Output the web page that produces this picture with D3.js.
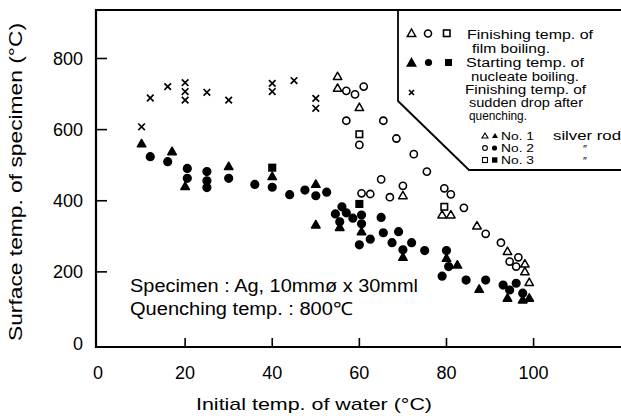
<!DOCTYPE html>
<html><head><meta charset="utf-8">
<script src="https://cdn.jsdelivr.net/npm/d3@7/dist/d3.min.js"></script>
<style>
html,body{margin:0;padding:0;background:#fff;}
text{font-family:"Liberation Sans",Arial,sans-serif;fill:#000;}
</style></head>
<body>
<svg id="chart" width="621" height="416"></svg>
<script>
// ---- data ----
const xTicks = [0, 20, 40, 60, 80, 100];
const yTicks = [0, 200, 400, 600, 800];
// Finishing temp. of film boiling (hollow)
const film1 = [[55,749],[55,716],[60,662],[70,414],[79,360],[81,360],[87,329],[94,257],[98,222],[98,200],[99,170]];
const film2 = [[57,709],[59,699],[61,721],[57,625],[65.5,625],[60,557],[68.5,575],[72.5,531],[75.5,482],[65,460],[60.5,421],[62.5,419],[67,410],[70,442],[79.5,435],[81,418],[84,380],[89,307],[92.5,282],[96.5,241],[94.5,229],[96,215]];
const film3 = [[60,587],[79.5,383]];
// Starting temp. of nucleate boiling (filled)
const nuc1 = [[10,560],[17,538],[20,440],[30,496],[40,468],[50,446],[50,332],[55.5,325],[60.5,313],[70,241],[80,238],[82.5,219],[87.5,151],[94,126],[97.5,121],[99,126]];
const nuc2 = [[12,524],[16,510],[20.5,491],[20.5,463],[25,482],[25,456],[25,437],[30,463],[36,446],[40,438],[44,417],[47.5,430],[50,414],[52.5,424],[56,383],[54.5,363],[57,366],[58.5,351],[60.5,360],[65,353],[55.5,341],[60.5,335],[60,276],[62.5,292],[65.5,310],[69,313],[67.5,282],[72,282],[70,262],[75,260],[80,260],[80.5,215],[79,188],[84.5,177],[89,177],[93,163],[96,168],[94.5,149],[97.5,140]];
const nuc3 = [[40,493],[60,391]];
// Finishing temp. of sudden drop after quenching
const sudden = [[10,608],[12,689],[16,721],[20,732],[20,707],[20,683],[25,705],[30,683],[40,730],[40,707],[45,738],[50,688],[50,660]];

const legendLines = ["Finishing temp. of","film boiling.","Starting temp. of","nucleate boiling.","Finishing temp. of","sudden drop after","quenching."];
const rodLabels = ["No. 1","No. 2","No. 3"];

// ---- drawing ----
const svg = d3.select("#chart");
const x = d3.scaleLinear().domain([0,100]).range([98,533.6]);
const y = d3.scaleLinear().domain([0,800]).range([343,58.5]);

// frame
const frame = svg.append("g").attr("fill","none").attr("stroke","#000");
frame.append("path").attr("d","M96,10 L621,10").attr("stroke-width",2);
frame.append("path").attr("d","M96,9 L96,347 L621,347").attr("stroke-width",2.2);
// legend box
frame.append("path").attr("d","M398,10 L398,101 L469,170 L621,170").attr("stroke-width",1.8);

// ticks
svg.append("g").selectAll("line").data(xTicks.filter(d=>d>0)).join("line")
  .attr("x1",d=>x(d)).attr("x2",d=>x(d)).attr("y1",347).attr("y2",338)
  .attr("stroke","#000").attr("stroke-width",1.6);
svg.append("g").selectAll("line").data(yTicks.filter(d=>d>0)).join("line")
  .attr("x1",96).attr("x2",107).attr("y1",d=>y(d)).attr("y2",d=>y(d))
  .attr("stroke","#000").attr("stroke-width",1.6);

// tick labels
svg.append("g").selectAll("text").data(xTicks).join("text")
  .attr("x",d=>x(d)).attr("y",379).attr("text-anchor","middle")
  .attr("font-size",18).text(d=>d);
svg.append("g").selectAll("text").data(yTicks).join("text")
  .attr("x",83).attr("y",d=>y(d)+6.5).attr("text-anchor","end")
  .attr("font-size",18).text(d=>d);

// axis titles
svg.append("text").attr("x",314).attr("y",410).attr("text-anchor","middle")
  .attr("font-size",17).attr("textLength",236).attr("lengthAdjust","spacingAndGlyphs")
  .text("Initial temp. of water  (°C)");
svg.append("text").attr("transform","translate(22,182) rotate(-90)").attr("text-anchor","middle")
  .attr("font-size",18).attr("textLength",318).attr("lengthAdjust","spacingAndGlyphs")
  .text("Surface temp. of specimen  (°C)");

// annotation
svg.append("text").attr("x",130).attr("y",292).attr("font-size",18)
  .attr("textLength",288).attr("lengthAdjust","spacingAndGlyphs")
  .text("Specimen : Ag, 10mmø x 30mml");
svg.append("text").attr("x",130).attr("y",315).attr("font-size",18)
  .attr("textLength",223).attr("lengthAdjust","spacingAndGlyphs")
  .text("Quenching temp. : 800℃");

// marker helpers
function tri(g, data, filled, s){
  const h = s*0.87;
  g.selectAll(null).data(data).join("path")
    .attr("d",d=>{const cx=x(d[0]), cy=y(d[1]);
      return `M${cx},${cy-h*0.6} L${cx+s/2},${cy+h*0.4} L${cx-s/2},${cy+h*0.4}Z`;})
    .attr("fill",filled?"#000":"#fff").attr("stroke","#000").attr("stroke-width",1.5).attr("stroke-linejoin","round");
}
function circ(g, data, filled, r){
  g.selectAll(null).data(data).join("circle")
    .attr("cx",d=>x(d[0])).attr("cy",d=>y(d[1])).attr("r",r)
    .attr("fill",filled?"#000":"#fff").attr("stroke","#000").attr("stroke-width",1.6);
}
function sq(g, data, filled, s){
  g.selectAll(null).data(data).join("rect")
    .attr("x",d=>x(d[0])-s/2).attr("y",d=>y(d[1])-s/2).attr("width",s).attr("height",s)
    .attr("fill",filled?"#000":"#fff").attr("stroke","#000").attr("stroke-width",1.6);
}
function cross(g, data, s){
  g.selectAll(null).data(data).join("path")
    .attr("d",d=>{const cx=x(d[0]), cy=y(d[1]);
      return `M${cx-s},${cy-s} L${cx+s},${cy+s} M${cx-s},${cy+s} L${cx+s},${cy-s}`;})
    .attr("stroke","#000").attr("stroke-width",1.7).attr("fill","none");
}

const pts = svg.append("g");
cross(pts, sudden, 3.3);
circ(pts, nuc2, true, 3.8);
tri(pts, nuc1, true, 8.5);
sq(pts, nuc3, true, 6.5);
circ(pts, film2, false, 3.6);
tri(pts, film1, false, 8.5);
sq(pts, film3, false, 6.5);

// legend symbols
const lg = svg.append("g");
lg.append("path").attr("d","M411.5,29 L415.7,36.5 L407.3,36.5Z").attr("fill","#fff").attr("stroke","#000").attr("stroke-width",1.5);
lg.append("circle").attr("cx",428).attr("cy",33.5).attr("r",3.5).attr("fill","#fff").attr("stroke","#000").attr("stroke-width",1.6);
lg.append("rect").attr("x",443.5).attr("y",30).attr("width",6.5).attr("height",6.5).attr("fill","#fff").attr("stroke","#000").attr("stroke-width",1.6);
lg.append("path").attr("d","M411.5,58.5 L415.7,66 L407.3,66Z").attr("fill","#000").attr("stroke","#000").attr("stroke-width",1.5);
lg.append("circle").attr("cx",428.5).attr("cy",62.5).attr("r",3.6).attr("fill","#000");
lg.append("rect").attr("x",445).attr("y",59).attr("width",7).attr("height",7).attr("fill","#000");
lg.append("path").attr("d","M409,90 L414,95 M409,95 L414,90").attr("stroke","#000").attr("stroke-width",1.7);

// legend texts
const legY = [39,53,67,81,94,107,120];
const legX = [467,472,466,471,465,469,469];
const legW = [126,78,118,108,121,114,58];
lg.selectAll("text.l").data(legendLines).join("text").attr("class","l")
  .attr("x",(d,i)=>legX[i]).attr("y",(d,i)=>legY[i]).attr("font-size",12)
  .attr("textLength",(d,i)=>legW[i]).attr("lengthAdjust","spacingAndGlyphs")
  .text(d=>d);

// rod key
const rodY = [136,148,160];
rodY.forEach((ry,i)=>{
  if(i===0){
    lg.append("path").attr("d",`M485,${ry-3} L488,${ry+2} L482,${ry+2}Z`).attr("fill","#fff").attr("stroke","#000").attr("stroke-width",1.1);
    lg.append("path").attr("d",`M495,${ry-3} L498,${ry+2} L492,${ry+2}Z`).attr("fill","#000");
  } else if(i===1){
    lg.append("circle").attr("cx",485).attr("cy",ry).attr("r",2.4).attr("fill","#fff").attr("stroke","#000").attr("stroke-width",1.1);
    lg.append("circle").attr("cx",494.5).attr("cy",ry).attr("r",2.6).attr("fill","#000");
  } else {
    lg.append("rect").attr("x",482.5).attr("y",ry-2.5).attr("width",5).attr("height",5).attr("fill","#fff").attr("stroke","#000").attr("stroke-width",1.1);
    lg.append("rect").attr("x",492).attr("y",ry-2.7).attr("width",5.4).attr("height",5.4).attr("fill","#000");
  }
});
lg.selectAll("text.r").data(rodLabels).join("text").attr("class","r")
  .attr("x",501).attr("y",(d,i)=>rodY[i]+4).attr("font-size",11.5)
  .attr("textLength",33).attr("lengthAdjust","spacingAndGlyphs").text(d=>d);
lg.append("text").attr("x",553).attr("y",140).attr("font-size",13)
  .attr("textLength",68).attr("lengthAdjust","spacingAndGlyphs").text("silver rod");
lg.selectAll("text.dt").data([1,2]).join("text").attr("class","dt")
  .attr("x",585).attr("y",i=>rodY[i]+5).attr("text-anchor","middle").attr("font-size",11).text("″");
</script>
</body></html>
